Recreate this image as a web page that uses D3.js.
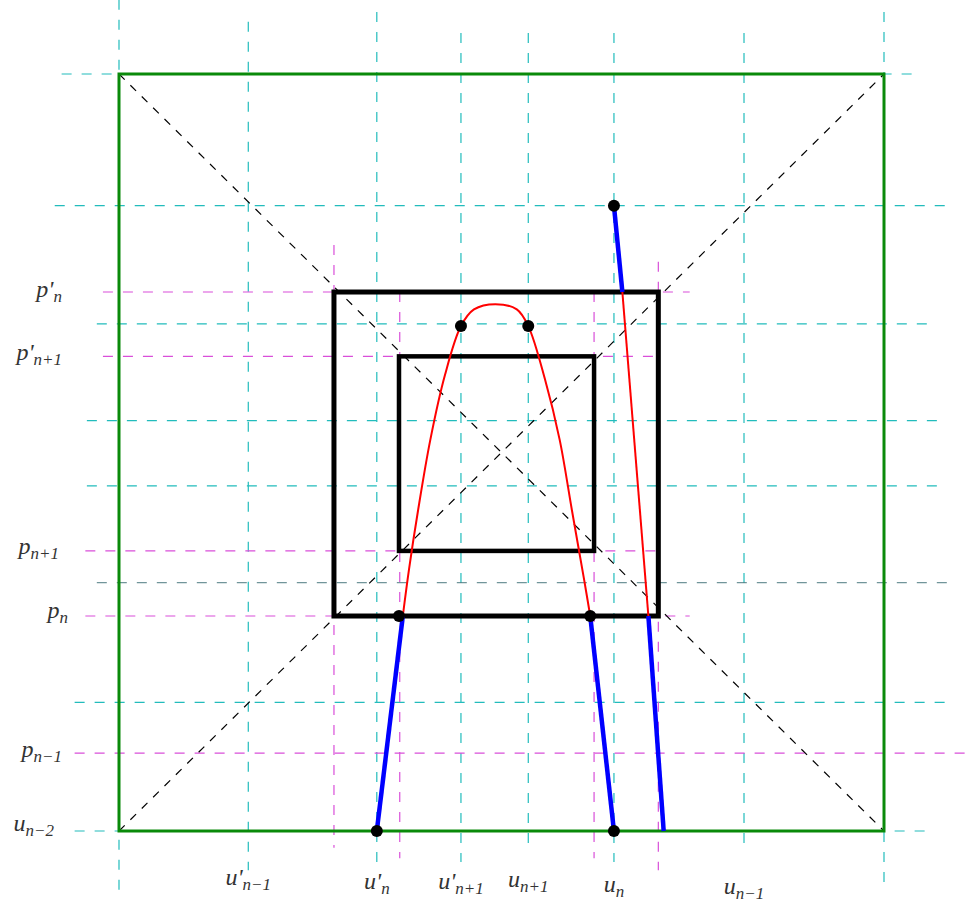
<!DOCTYPE html>
<html><head><meta charset="utf-8">
<script src="https://cdn.jsdelivr.net/npm/d3@7"></script>
<style>body{margin:0;background:#fff}svg{display:block}</style>
</head><body>
<svg id="c" width="965" height="903"></svg>
<script>
// ---- data (diagram units 0..100) ----
const cyanV = [[0,109.8,-8.5],[16.9,106.9,-5.2],[33.7,108.2,-4.6],[44.7,105.4,-4.1],[53.5,105.4,-2.2],[64.7,105.4,-4.1],[81.7,105.4,-2.2],[100,108.2,-7.8]];
const cyanH = [[100,-7.5,104.7],[82.6,-8.4,108.6],[67.0,-2.9,106.7],[54.2,-4.2,107.3],[45.6,-4.2,108.0],[17.0,-5.8,108.0],[0,-5.8,106.0]];
const darkH = [[32.8,-2.9,109.3]];
const magH = [[71.2,-2.1,74.6],[62.7,-2.1,70.7],[37.0,-4.4,70.7],[28.4,-4.4,74.6],[10.3,-5.8,110.6]];
const magV = [[28.1,77.4,-2.2],[36.7,71.2,-3.6],[62.1,71.2,-3.6],[70.5,75.2,-5.2]];
const diagonals = [[[0,100],[100,0]],[[0,0],[100,100]]];
const outerBox = [0,0,100,100];
const boxes = [[28.1,28.4,70.5,71.2],[36.6,37.0,62.1,62.7]];
const redCurve = [[37.1,28.4],[37.9,34.5],[39.1,42.4],[40.7,51.7],[42.6,60.2],[44.7,66.7],[46.4,68.9],[49.2,69.6],[52.0,68.9],[53.5,66.7],[55.7,59.6],[57.6,51.7],[59.2,42.4],[60.8,33.2],[61.6,28.4]];
const redLine = [[65.8,71.2],[69.2,28.4]];
const blueLines = [[[33.7,0],[37.1,28.4]],[[64.7,0],[61.6,28.4]],[[64.7,82.6],[65.8,71.2]],[[69.2,28.4],[71.2,0]]];
const dots = [[64.7,82.6],[44.7,66.7],[53.5,66.7],[36.6,28.4],[61.6,28.4],[33.7,0],[64.7,0]];
// labels: base, prime, subscript, value
const bottomLabels = [["u",true,"n−1",16.9],["u",true,"n",33.7],["u",true,"n+1",44.7],["u",false,"n+1",53.5],["u",false,"n",64.7],["u",false,"n−1",81.7]];
const leftLabels = [["p",true,"n",71.2],["p",true,"n+1",62.7],["p",false,"n+1",37.0],["p",false,"n",28.4],["p",false,"n−1",10.3],["u",false,"n−2",0]];

// ---- layout (pixels) ----
const bottomBaselines = [885,889,889,887,892,894];
const leftRightEdges = [62,62,59,68,62,54];
const leftBaselineShift = [5,4,3,2,4,0];

// ---- drawing ----
const svg = d3.select("#c");
const x = d3.scaleLinear().domain([0,100]).range([119,884]);
const y = d3.scaleLinear().domain([0,100]).range([831,74]);
const CY="#22bcbc", MG="#d94fd9";

function vlines(data,color,dash,w){
  svg.append("g").selectAll("line").data(data).join("line")
    .attr("x1",d=>x(d[0])).attr("x2",d=>x(d[0])).attr("y1",d=>y(d[1])).attr("y2",d=>y(d[2]))
    .attr("stroke",color).attr("stroke-width",w).attr("stroke-dasharray",dash);
}
function hlines(data,color,dash,w){
  svg.append("g").selectAll("line").data(data).join("line")
    .attr("y1",d=>y(d[0])).attr("y2",d=>y(d[0])).attr("x1",d=>x(d[1])).attr("x2",d=>x(d[2]))
    .attr("stroke",color).attr("stroke-width",w).attr("stroke-dasharray",dash);
}
vlines(cyanV,CY,"10,10",1.2);
hlines(cyanH,CY,"10,10",1.2);
hlines(darkH,"#4d7a80","10,10",1);
hlines(magH,MG,"10,10",1.2);
vlines(magV,MG,"10,10",1.2);

svg.append("g").selectAll("line").data(diagonals).join("line")
  .attr("x1",d=>x(d[0][0])).attr("y1",d=>y(d[0][1])).attr("x2",d=>x(d[1][0])).attr("y2",d=>y(d[1][1]))
  .attr("stroke","#000").attr("stroke-width",1.2).attr("stroke-dasharray","8,8");

svg.append("rect").attr("x",x(outerBox[0])).attr("y",y(outerBox[3]))
  .attr("width",x(outerBox[2])-x(outerBox[0])).attr("height",y(outerBox[1])-y(outerBox[3]))
  .attr("fill","none").attr("stroke","#0a8a0a").attr("stroke-width",3);

svg.append("g").selectAll("rect").data(boxes).join("rect")
  .attr("x",d=>x(d[0])).attr("y",d=>y(d[3])).attr("width",d=>x(d[2])-x(d[0])).attr("height",d=>y(d[1])-y(d[3]))
  .attr("fill","none").attr("stroke","#000").attr("stroke-width",(d,i)=>i===0?5:4.5);

const line = d3.line().x(d=>x(d[0])).y(d=>y(d[1]));
svg.append("path").attr("d",d3.line().x(d=>x(d[0])).y(d=>y(d[1])).curve(d3.curveCatmullRom.alpha(0.5))(redCurve)).attr("fill","none").attr("stroke","#f00").attr("stroke-width",2);
svg.append("path").attr("d",line(redLine)).attr("fill","none").attr("stroke","#f00").attr("stroke-width",2);
svg.append("g").selectAll("path").data(blueLines).join("path")
  .attr("d",d=>line(d)).attr("fill","none").attr("stroke","#0000ff").attr("stroke-width",4.5);
svg.append("g").selectAll("circle").data(dots).join("circle")
  .attr("cx",d=>x(d[0])).attr("cy",d=>y(d[1])).attr("r",6).attr("fill","#000");

function label(d){
  const t=svg.append("text").attr("font-family","'Liberation Serif', serif").attr("font-style","italic").attr("fill","#333").attr("font-size",24);
  t.append("tspan").text(d[0] + (d[1] ? "'" : ""));
  t.append("tspan").attr("font-size",17).attr("dy",5).text(d[2]);
  return t;
}
bottomLabels.forEach((d,i)=>{
  label(d).attr("x",x(d[3])).attr("y",bottomBaselines[i]).attr("text-anchor","middle");
});
leftLabels.forEach((d,i)=>{
  label(d).attr("x",leftRightEdges[i]).attr("y",y(d[3])+leftBaselineShift[i]).attr("text-anchor","end");
});
</script>
</body></html>
